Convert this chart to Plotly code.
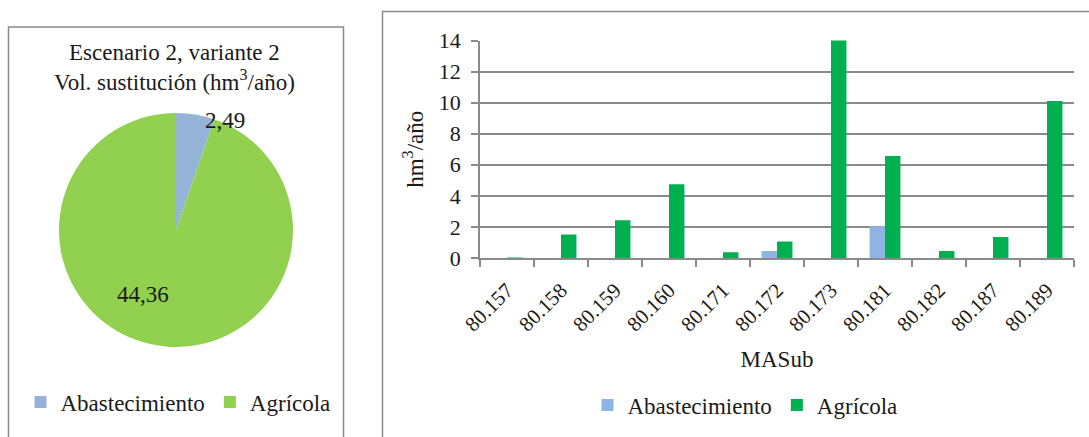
import math
import plotly.graph_objects as go

# --- data ---------------------------------------------------------------
usos = ["Abastecimiento", "Agrícola"]
vol_total = [2.49, 44.36]  # hm3/año, escenario 2 variante 2

masub = ["80.157", "80.158", "80.159", "80.160", "80.171", "80.172",
         "80.173", "80.181", "80.182", "80.187", "80.189"]
vol_abastecimiento = [0, 0, 0, 0, 0, 0.45, 0, 2.04, 0, 0, 0]
vol_agricola = [0.02, 1.52, 2.43, 4.75, 0.37, 1.07, 15.72, 6.57, 0.45, 1.35, 10.11]

y_ticks = [0, 2, 4, 6, 8, 10, 12, 14]

# --- styling ------------------------------------------------------------
W, H = 1089, 437
FONT = "Liberation Serif, Times New Roman, serif"
TXT = "#1a1a1a"
GRID = "#8a8a8a"
FS = 23
pie_colors = ["#95B3D7", "#92D050"]
bar_colors = ["#8EB4E3", "#00B050"]

# pie geometry (pixels)
pie_cx, pie_cy, pie_r = 176, 230, 117


def px_x(x):
    return x / W


def px_y(y):
    return 1 - y / H


def fmt(v):
    return f"{v:.2f}".replace(".", ",")


fig = go.Figure()

fig.add_trace(go.Pie(
    labels=usos,
    values=vol_total,
    sort=False,
    direction="clockwise",
    rotation=0,
    marker=dict(colors=pie_colors, line=dict(width=0)),
    textinfo="none",
    hoverinfo="label+value",
    domain=dict(x=[px_x(pie_cx - pie_r), px_x(pie_cx + pie_r)],
                y=[px_y(pie_cy + pie_r), px_y(pie_cy - pie_r)]),
    legend="legend",
))

fig.add_trace(go.Bar(
    name=usos[0], x=masub, y=vol_abastecimiento,
    marker=dict(color=bar_colors[0], line=dict(width=0)),
    legend="legend2",
))
fig.add_trace(go.Bar(
    name=usos[1], x=masub, y=vol_agricola,
    marker=dict(color=bar_colors[1], line=dict(width=0)),
    legend="legend2",
))

# pie value labels, placed along each slice relative to the pie centre
label_place = [(24.0, 1.02), (207.0, 0.62)]  # (angle clockwise from top in deg, radius fraction)
annotations = []
for v, (ang, rf) in zip(vol_total, label_place):
    a = math.radians(ang)
    x = pie_cx + rf * pie_r * math.sin(a)
    y = pie_cy - rf * pie_r * math.cos(a)
    annotations.append(dict(
        x=px_x(x), y=px_y(y), xref="paper", yref="paper",
        xanchor="center", yanchor="middle",
        text=fmt(v), showarrow=False,
        font=dict(family=FONT, size=FS, color=TXT),
    ))

# pie title
annotations.append(dict(
    x=px_x(174), y=px_y(67), xref="paper", yref="paper",
    xanchor="center", yanchor="middle",
    text="Escenario 2, variante 2<br>Vol. sustitución (hm<sup>3</sup>/año)",
    showarrow=False, align="center",
    font=dict(family=FONT, size=FS, color=TXT),
))

# chart frames
shapes = [
    dict(type="rect", xref="paper", yref="paper",
         x0=px_x(8.5), x1=px_x(343.5), y0=px_y(460), y1=px_y(27),
         line=dict(color=GRID, width=1.5), layer="below"),
    dict(type="rect", xref="paper", yref="paper",
         x0=px_x(382.5), x1=px_x(1110), y0=px_y(460), y1=px_y(11.5),
         line=dict(color=GRID, width=1.5), layer="below"),
]

fig.update_layout(
    width=W, height=H,
    margin=dict(l=0, r=0, t=0, b=0, autoexpand=False),
    paper_bgcolor="white", plot_bgcolor="white",
    font=dict(family=FONT, size=FS, color=TXT),
    barmode="group", bargap=1.5 / 3.5, bargroupgap=0,
    separators=",.",
    annotations=annotations,
    shapes=shapes,
    xaxis=dict(
        domain=[px_x(480), px_x(1074)],
        type="category",
        tickangle=-45,
        ticks="outside", tickson="boundaries", ticklen=7,
        tickcolor=GRID, tickwidth=1.5,
        ticklabelstandoff=10,
        showline=True, linecolor=GRID, linewidth=1.5,
        showgrid=False,
        automargin=False,
        tickfont=dict(family=FONT, size=21, color=TXT),
        title=dict(text="MASub", standoff=16,
                   font=dict(family=FONT, size=FS, color=TXT)),
    ),
    yaxis=dict(
        domain=[px_y(258), px_y(40.5)],
        range=[0, 14],
        tickvals=y_ticks,
        ticks="outside", ticklen=7, tickcolor=GRID, tickwidth=1.5,
        ticklabelstandoff=6,
        showline=True, linecolor=GRID, linewidth=1.5,
        showgrid=True, gridcolor=GRID, gridwidth=2,
        zeroline=False,
        automargin=False,
        tickfont=dict(family=FONT, size=22, color=TXT),
        title=dict(text="hm<sup>3</sup>/año", standoff=9,
                   font=dict(family=FONT, size=FS, color=TXT)),
    ),
    legend=dict(
        orientation="h", x=px_x(178), xanchor="center",
        y=px_y(402), yanchor="middle",
        font=dict(family=FONT, size=FS, color=TXT),
        bgcolor="rgba(0,0,0,0)", itemclick=False,
    ),
    legend2=dict(
        orientation="h", x=px_x(745), xanchor="center",
        y=px_y(405), yanchor="middle",
        font=dict(family=FONT, size=FS, color=TXT),
        bgcolor="rgba(0,0,0,0)", itemclick=False,
    ),
)

fig.write_html("out.html")
